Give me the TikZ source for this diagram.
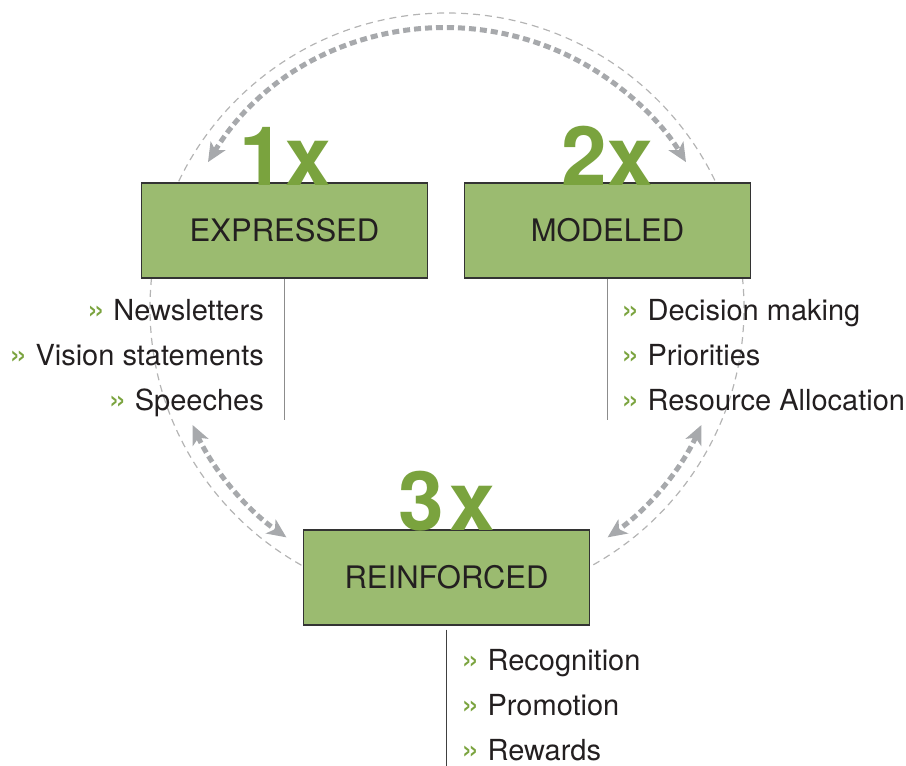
\documentclass[tikz,border=0pt]{standalone}
\usepackage{fontspec}
\setmainfont{TeX Gyre Heros}
\usetikzlibrary{arrows.meta}
\definecolor{boxgreen}{RGB}{155,187,112}
\definecolor{numgreen}{RGB}{122,163,62}
\definecolor{arcgray}{RGB}{167,169,172}
\definecolor{ringgray}{RGB}{180,180,180}
\definecolor{txt}{RGB}{35,31,32}
\tikzstyle{stage} = [rectangle, minimum width=286pt, minimum height=95pt, text centered, draw=black!80, line width=1.2pt, fill=boxgreen, text=txt, font=\fontsize{31}{36}\selectfont]
\tikzstyle{count} = [anchor=base, inner sep=0pt, text=numgreen, font=\fontsize{82}{90}\selectfont\bfseries]
\tikzstyle{item} = [inner sep=0pt, text=txt, font=\fontsize{29}{34}\selectfont]
\tikzstyle{stem} = [line width=1.6pt, draw=black!45]
\tikzstyle{ring} = [ringgray, line width=1.2pt, dash pattern=on 7pt off 5pt]
\tikzstyle{loop} = [arcgray, line width=5pt, dash pattern=on 7pt off 4pt, {Stealth[length=19pt,width=17pt,inset=5pt]}-{Stealth[length=19pt,width=17pt,inset=5pt]}]
\newcommand{\bul}{{\fontsize{33}{33}\selectfont\textcolor{numgreen}{\guillemotright}}\ }

\begin{document}
\begin{tikzpicture}[x=1pt, y=1pt]
\useasboundingbox (0,0) rectangle (906,-766);

\coordinate (c) at (447,-308);
\draw [ring] (c) ellipse [x radius=297pt, y radius=295pt];

% Loop arrows
\draw [loop] ([shift={(148.6:280pt)}]c) arc [start angle=148.6, end angle=31.4, radius=280pt];
\draw [loop] ([shift={(204.7:280pt)}]c) arc [start angle=204.7, end angle=235, radius=280pt];
\draw [loop] ([shift={(335.3:280pt)}]c) arc [start angle=335.3, end angle=305, radius=280pt];

\node (expr) [stage] at (284.5,-230.5) {EXPRESSED};
\node (model) [stage] at (607.5,-230.5) {MODELED};
\node (rein) [stage] at (446.5,-577.5) {REINFORCED};

\node (one) [count] at (285,-185) {1x};
\node (two) [count] at (607,-185) {2x};
\node (three) [count] at (447,-530) {3\kern6pt x};

% Stems
\coordinate (exprend) at (284.5,-420);
\coordinate (modelend) at (607.5,-420);
\coordinate (reinend) at (446.5,-766);
\draw [stem] (expr.south) -- (exprend);
\draw [stem] (model.south) -- (modelend);
\draw [stem, draw=black!75, line width=1.2pt] ([yshift=-4pt]rein.south) -- (reinend);

% Lists
\node (news) [item, anchor=base east] at (264,-320.5) {\bul Newsletters};
\node (vision) [item, anchor=base east] at (264,-365.5) {\bul Vision statements};
\node (speech) [item, anchor=base east] at (264,-410.5) {\bul Speeches};

\node (decide) [item, anchor=base west] at (621,-320.5) {\bul Decision making};
\node (prior) [item, anchor=base west] at (621,-365.5) {\bul Priorities};
\node (alloc) [item, anchor=base west] at (621,-410.5) {\bul Resource Allocation};

\node (recog) [item, anchor=base west] at (461,-670) {\bul Recognition};
\node (promo) [item, anchor=base west] at (461,-715) {\bul Promotion};
\node (reward) [item, anchor=base west] at (461,-760) {\bul Rewards};

\end{tikzpicture}
\end{document}
